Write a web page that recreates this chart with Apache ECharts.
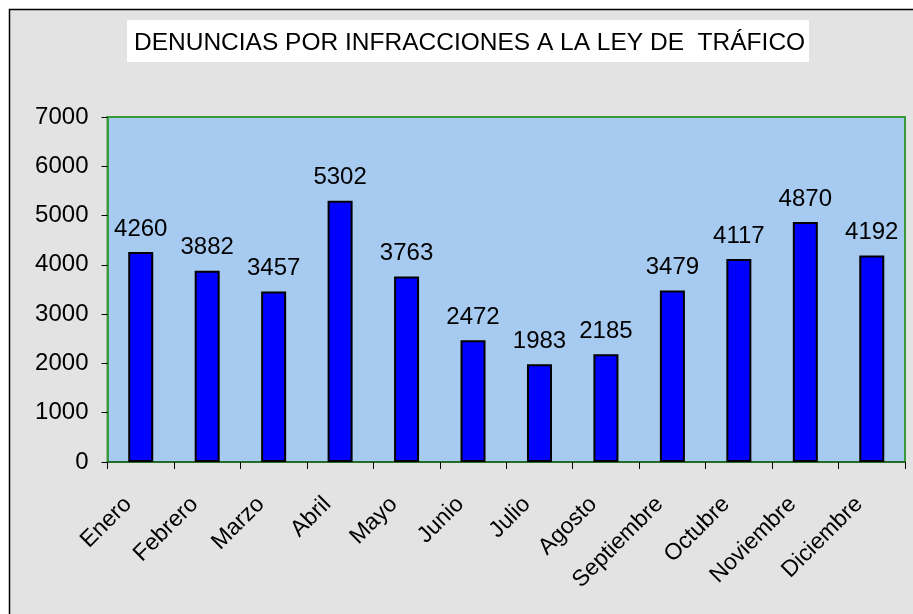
<!DOCTYPE html>
<html>
<head>
<meta charset="utf-8">
<script src="https://cdn.jsdelivr.net/npm/echarts@6/dist/echarts.min.js"></script>
<style>
  html, body { margin: 0; padding: 0; background: #ffffff; }
  #main { width: 913px; height: 614px; }
</style>
</head>
<body>
<div id="main"></div>
<script>
// meses y denuncias
var meses = ['Enero', 'Febrero', 'Marzo', 'Abril', 'Mayo', 'Junio', 'Julio',
    'Agosto', 'Septiembre', 'Octubre', 'Noviembre', 'Diciembre'];
var denuncias = [4260, 3882, 3457, 5302, 3763, 2472, 1983, 2185, 3479, 4117, 4870, 4192];
var ticksY = [0, 1000, 2000, 3000, 4000, 5000, 6000, 7000];

var chart = echarts.init(document.getElementById('main'));

var option = {
    backgroundColor: '#ffffff',
    textStyle: { fontFamily: 'Liberation Sans, Arial, sans-serif' },
    animation: false,
    graphic: [
        // marco exterior gris (sigue fuera de la imagen por la derecha y abajo)
        {
            type: 'rect', z: -10,
            shape: { x: 9.5, y: 9.5, width: 1000, height: 1000 },
            style: { fill: '#e3e3e3', stroke: '#000000', lineWidth: 1.5 }
        },
        // caja blanca del titulo
        {
            type: 'rect', z: -5,
            shape: { x: 127, y: 20, width: 682, height: 42 },
            style: { fill: '#ffffff' }
        }
    ],
    title: {
        text: 'DENUNCIAS POR INFRACCIONES A LA LEY DE  TRÁFICO',
        left: 129,
        top: 26,
        textStyle: {
            color: '#000000',
            fontSize: 24.5,
            fontWeight: 'normal',
            fontFamily: 'Liberation Sans, Arial, sans-serif'
        }
    },
    grid: {
        left: 107.5,
        right: 8,
        top: 117,
        bottom: 152,
        show: true,
        backgroundColor: '#a6caf0',
        borderColor: '#3a9a3a',
        borderWidth: 2
    },
    xAxis: {
        type: 'category',
        data: meses,
        boundaryGap: true,
        axisLine: { lineStyle: { color: '#1f5f1f', width: 1.5 } },
        axisTick: { show: true, length: 7, lineStyle: { color: '#000000' } },
        axisLabel: {
            rotate: 45,
            color: '#000000',
            fontSize: 23,
            margin: 26,
            padding: [0, 18, 0, 0],
            interval: 0
        }
    },
    yAxis: {
        type: 'value',
        min: 0,
        max: ticksY[ticksY.length - 1],
        interval: 1000,
        axisLine: { show: true, lineStyle: { color: '#3a9a3a', width: 2 } },
        axisTick: { show: true, length: 6, lineStyle: { color: '#000000' } },
        splitLine: { show: false },
        axisLabel: {
            color: '#000000',
            fontSize: 24,
            margin: 19,
            formatter: function (v) { return String(v); }
        }
    },
    series: [{
        type: 'bar',
        data: denuncias,
        barWidth: 25,
        itemStyle: {
            color: '#0000ff',
            borderColor: '#000000',
            borderWidth: 2
        },
        label: {
            show: true,
            position: 'top',
            distance: 11,
            color: '#000000',
            fontSize: 24
        }
    }]
};

chart.setOption(option);

window.addEventListener('resize', function () {
    chart.resize();
});
</script>
</body>
</html>
